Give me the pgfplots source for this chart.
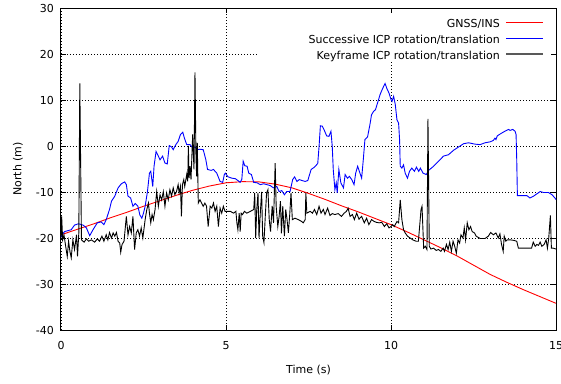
\documentclass[border=0pt]{standalone}
\usepackage{fontspec}
\setmainfont{DejaVu Sans}
\usepackage{pgfplots}
\usepackage{pgfplotstable}
\pgfplotsset{compat=1.18}
\pgfplotstableread{
t y
0.00 -19.8
0.03 -19.3
0.11 -18.6
0.31 -18.2
0.41 -17.2
0.53 -16.9
0.67 -17.2
0.77 -17.8
0.87 -19.5
0.97 -18.2
1.10 -16.7
1.22 -16.5
1.30 -17.1
1.37 -16.0
1.47 -13.8
1.53 -12.0
1.63 -10.9
1.73 -9.1
1.83 -8.2
1.93 -7.8
1.98 -8.4
2.03 -10.9
2.11 -11.3
2.18 -13.1
2.25 -12.5
2.33 -13.1
2.39 -15.0
2.45 -15.7
2.50 -14.6
2.55 -13.1
2.62 -9.9
2.68 -5.9
2.72 -5.5
2.78 -8.8
2.82 -4.4
2.88 -1.2
2.95 -2.2
3.00 -3.0
3.08 -2.2
3.15 -3.7
3.22 -3.9
3.28 0.1
3.35 -0.2
3.40 -0.8
3.48 0.3
3.55 1.0
3.62 2.5
3.69 3.0
3.74 1.7
3.81 0.3
3.91 0.3
3.99 -0.4
4.06 -0.2
4.13 -0.8
4.21 -0.7
4.31 -0.8
4.39 -3.0
4.44 -5.1
4.55 -5.3
4.62 -5.1
4.72 -5.9
4.82 -7.7
4.90 -7.9
4.95 -6.2
4.98 -5.9
5.06 -6.7
5.18 -7.0
5.28 -7.1
5.36 -7.5
5.43 -7.9
5.48 -7.2
5.52 -3.3
5.57 -4.3
5.64 -4.4
5.69 -5.9
5.77 -6.2
5.84 -7.9
5.94 -8.0
6.04 -8.4
6.14 -8.2
6.24 -8.4
6.34 -8.6
6.44 -9.1
6.54 -8.8
6.61 -9.9
6.69 -9.7
6.77 -10.6
6.84 -9.9
6.94 -9.9
7.02 -7.3
7.08 -6.7
7.15 -7.7
7.22 -7.3
7.30 -7.5
7.40 -7.7
7.48 -7.5
7.52 -6.5
7.58 -5.1
7.68 -4.6
7.78 -3.8
7.82 -0.1
7.86 4.4
7.92 4.3
7.98 3.4
8.05 2.2
8.12 2.1
8.18 3.2
8.22 -0.1
8.25 -5.1
8.30 -9.5
8.34 -8.0
8.37 -10.2
8.42 -5.1
8.48 -8.0
8.56 -9.1
8.61 -6.2
8.68 -7.0
8.74 -6.6
8.81 -7.3
8.88 -8.4
8.93 -5.9
8.99 -4.4
9.04 -5.5
9.11 -7.0
9.16 -3.0
9.21 1.4
9.29 2.0
9.36 4.6
9.41 6.8
9.47 7.5
9.53 7.9
9.59 9.3
9.67 11.2
9.74 12.4
9.82 13.6
9.88 12.4
9.94 11.5
10.00 10.1
10.03 9.7
10.08 10.8
10.13 9.0
10.18 5.7
10.23 5.0
10.26 1.4
10.28 -4.4
10.33 -4.8
10.38 -4.1
10.43 -5.9
10.50 -7.0
10.56 -5.5
10.63 -4.8
10.71 -5.5
10.77 -4.6
10.84 -5.5
10.89 -4.8
10.97 -5.9
11.07 -6.2
11.14 -5.3
11.29 -4.4
11.44 -3.3
11.59 -2.2
11.74 -1.9
11.90 -0.9
12.05 -0.2
12.20 0.5
12.35 0.7
12.55 0.4
12.70 0.3
12.85 0.7
13.00 0.9
13.10 1.2
13.15 1.7
13.18 1.4
13.22 2.2
13.35 2.8
13.45 3.2
13.56 3.6
13.61 3.4
13.69 3.6
13.76 3.2
13.79 2.5
13.81 -3.0
13.83 -10.8
13.96 -10.8
14.12 -10.8
14.21 -11.3
14.32 -10.9
14.42 -10.4
14.52 -9.9
14.62 -10.1
14.77 -10.1
14.88 -10.6
14.99 -11.5
15.00 -11.7
}\bluedata
\pgfplotstableread{
t y
0.00 -20.0
0.02 -15.3
0.05 -20.4
0.09 -19.3
0.15 -22.2
0.19 -24.0
0.23 -20.7
0.27 -22.9
0.31 -24.3
0.36 -20.4
0.41 -22.5
0.47 -19.3
0.50 -24.0
0.54 -18.9
0.57 13.6
0.62 -20.4
0.70 -20.9
0.77 -20.2
0.84 -20.7
0.92 -20.4
1.02 -20.9
1.10 -20.2
1.17 -20.7
1.24 -19.6
1.30 -20.7
1.37 -19.3
1.42 -20.4
1.47 -18.8
1.53 -20.0
1.58 -18.9
1.63 -19.6
1.68 -18.8
1.73 -20.7
1.78 -21.1
1.81 -23.1
1.85 -21.4
1.91 -20.7
1.98 -15.3
2.03 -19.3
2.08 -17.5
2.13 -18.9
2.18 -15.3
2.23 -22.5
2.28 -18.9
2.33 -18.2
2.38 -19.6
2.43 -17.8
2.48 -20.0
2.55 -16.0
2.60 -13.8
2.65 -12.4
2.68 -14.6
2.72 -16.7
2.76 -14.9
2.80 -16.0
2.85 -13.8
2.90 -9.9
2.95 -13.1
3.00 -10.6
3.05 -11.7
3.10 -9.9
3.15 -13.1
3.20 -10.2
3.25 -11.7
3.30 -9.5
3.35 -10.9
3.40 -9.1
3.45 -10.6
3.50 -9.9
3.55 -8.4
3.58 -10.2
3.62 -8.8
3.65 -15.3
3.68 -8.4
3.72 -7.3
3.75 -8.8
3.81 -6.2
3.84 -7.7
3.86 0.0
3.88 -7.0
3.91 -4.4
3.94 -7.3
3.99 2.5
4.03 -5.1
4.06 16.0
4.09 -2.2
4.11 -6.6
4.13 0.7
4.16 -12.4
4.21 -11.7
4.26 -12.4
4.31 -13.1
4.36 -12.4
4.41 -13.1
4.46 -17.5
4.52 -13.1
4.57 -13.5
4.62 -12.4
4.67 -14.2
4.72 -13.1
4.77 -17.5
4.82 -13.5
4.87 -14.6
4.92 -13.1
4.97 -14.2
5.03 -14.2
5.13 -14.2
5.23 -14.6
5.30 -14.2
5.33 -16.7
5.36 -18.2
5.40 -14.6
5.43 -18.6
5.46 -14.6
5.50 -14.9
5.56 -14.2
5.63 -14.6
5.74 -14.2
5.84 -13.8
5.87 -10.2
5.90 -20.0
5.93 -14.0
5.97 -10.2
6.00 -20.0
6.04 -14.5
6.08 -10.0
6.11 -19.5
6.15 -21.0
6.19 -15.3
6.23 -10.2
6.27 -9.5
6.31 -16.0
6.35 -18.6
6.40 -13.0
6.44 -16.7
6.49 -3.7
6.52 -13.1
6.57 -17.5
6.61 -15.3
6.65 -12.0
6.68 -19.0
6.72 -13.1
6.77 -19.6
6.81 -13.8
6.85 -16.0
6.89 -18.9
6.93 -15.0
6.97 -10.2
7.01 -16.0
7.09 -15.7
7.19 -16.0
7.29 -16.4
7.34 -16.7
7.40 -16.0
7.42 -10.2
7.45 -14.6
7.55 -14.2
7.62 -14.6
7.68 -13.8
7.75 -14.9
7.82 -13.1
7.88 -14.6
7.95 -13.8
8.00 -14.9
8.08 -13.5
8.15 -15.1
8.22 -14.7
8.30 -14.9
8.40 -14.7
8.50 -15.3
8.58 -14.6
8.65 -14.2
8.70 -13.5
8.76 -15.3
8.83 -14.9
8.89 -16.0
8.96 -14.6
9.03 -15.9
9.11 -15.3
9.19 -16.7
9.26 -15.7
9.33 -17.1
9.41 -16.0
9.49 -16.4
9.56 -16.6
9.64 -16.7
9.72 -16.6
9.80 -17.5
9.87 -16.9
9.94 -17.8
10.00 -17.5
10.05 -17.1
10.10 -17.5
10.18 -16.4
10.23 -16.7
10.28 -11.7
10.33 -16.0
10.38 -18.2
10.43 -18.9
10.50 -19.6
10.58 -20.0
10.66 -20.4
10.76 -20.7
10.83 -20.7
10.91 -13.8
10.94 -13.1
10.99 -22.2
11.04 -21.8
11.09 -22.5
11.12 5.9
11.16 -21.8
11.21 -22.4
11.29 -22.2
11.37 -22.7
11.44 -22.5
11.51 -22.9
11.58 -22.2
11.62 -22.9
11.68 -21.4
11.73 -22.5
11.78 -20.9
11.83 -22.9
11.88 -20.7
11.93 -21.8
11.98 -23.3
12.03 -20.4
12.08 -21.1
12.12 -19.3
12.18 -20.0
12.22 -17.8
12.26 -20.4
12.31 -16.7
12.36 -18.2
12.41 -17.5
12.46 -18.6
12.53 -18.9
12.58 -19.6
12.70 -20.1
12.85 -20.1
12.95 -19.6
13.02 -18.8
13.10 -19.3
13.18 -18.9
13.25 -20.0
13.30 -19.1
13.35 -21.4
13.40 -22.9
13.43 -19.6
13.48 -20.7
13.52 -20.4
13.61 -20.4
13.71 -20.5
13.81 -20.7
13.86 -22.2
14.01 -22.2
14.16 -22.2
14.26 -22.2
14.31 -20.9
14.37 -21.8
14.42 -21.4
14.47 -21.6
14.52 -20.9
14.57 -21.8
14.64 -21.4
14.70 -20.4
14.74 -22.2
14.78 -20.0
14.83 -15.1
14.86 -22.2
14.91 -22.2
15.00 -22.4
}\blackdata
\begin{document}
\fontsize{11pt}{13pt}\selectfont
\begin{tikzpicture}
\begin{axis}[
  scale only axis, width=495pt, height=322pt,
  xmin=0, xmax=15, ymin=-40, ymax=30,
  xtick={0,5,10,15}, ytick={-40,-30,-20,-10,0,10,20,30},
  tick pos=both, tick align=inside, major tick length=5pt,
  grid=major,
  major grid style={black, line width=0.6pt, dash pattern=on 1pt off 2pt},
  axis line style={black, line width=1pt},
  every tick/.style={black, line width=1pt},
  /pgf/number format/assume math mode=true,
  tick label style={font=\fontsize{11pt}{13pt}\selectfont},
  xticklabel style={inner sep=0pt, yshift=-11pt},
  yticklabel style={inner sep=0pt, xshift=-7pt},
  xlabel={Time (s)}, ylabel={North (m)},
  label style={font=\fontsize{11pt}{13pt}\selectfont},
  xlabel style={at={(axis description cs:0.5,-0.1242)}, anchor=center},
  ylabel style={at={(axis description cs:-0.0869,0.5)}, anchor=center},
]
\fill[white] (axis cs:5.97,28.8) rectangle (axis cs:14.85,18.3);
\coordinate (O) at (rel axis cs:0,0);
\addplot[color=red, line width=0.9pt] coordinates {
(0,-19.3) (0.5,-18.1) (1,-16.9) (1.5,-15.6) (2,-14.4) (2.5,-13.1) (3,-11.9) (3.5,-10.7)
(4,-9.6) (4.5,-8.7) (5,-8.0) (5.5,-7.75) (6,-7.8) (6.5,-8.3) (7,-9.1) (7.5,-10.3)
(8,-11.6) (8.5,-13.0) (9,-14.3) (9.5,-15.7) (10,-17.1) (10.5,-18.7) (11,-20.4)
(11.5,-22.1) (12,-23.9) (12.5,-25.9) (13,-27.9) (13.5,-29.6) (14,-31.2) (14.5,-32.7) (15,-34.2)};
\addplot[color=blue, line width=0.9pt] table[x=t,y=y] {\bluedata};
\addplot[color=black, line width=0.9pt] table[x=t,y=y] {\blackdata};
% legend
\node[anchor=base east, inner sep=0pt, font=\fontsize{11pt}{13pt}\selectfont] at (rel axis cs:0.8869,0.9401) {GNSS/INS};
\node[anchor=base east, inner sep=0pt, font=\fontsize{11pt}{13pt}\selectfont] at (rel axis cs:0.8869,0.8904) {Successive ICP rotation/translation};
\node[anchor=base east, inner sep=0pt, font=\fontsize{11pt}{13pt}\selectfont] at (rel axis cs:0.8869,0.8416) {Keyframe ICP rotation/translation};
\draw[red, line width=0.9pt] (rel axis cs:0.8990,0.9556) -- (rel axis cs:0.9737,0.9556);
\draw[blue, line width=0.9pt] (rel axis cs:0.8990,0.9059) -- (rel axis cs:0.9737,0.9059);
\draw[black!65, line width=1.8pt] (rel axis cs:0.8990,0.8571) -- (rel axis cs:0.9737,0.8571);
\end{axis}
\pgfresetboundingbox
\path (O) ++(-61pt,-53pt) rectangle ++(561pt,383pt);
\end{tikzpicture}
\end{document}
